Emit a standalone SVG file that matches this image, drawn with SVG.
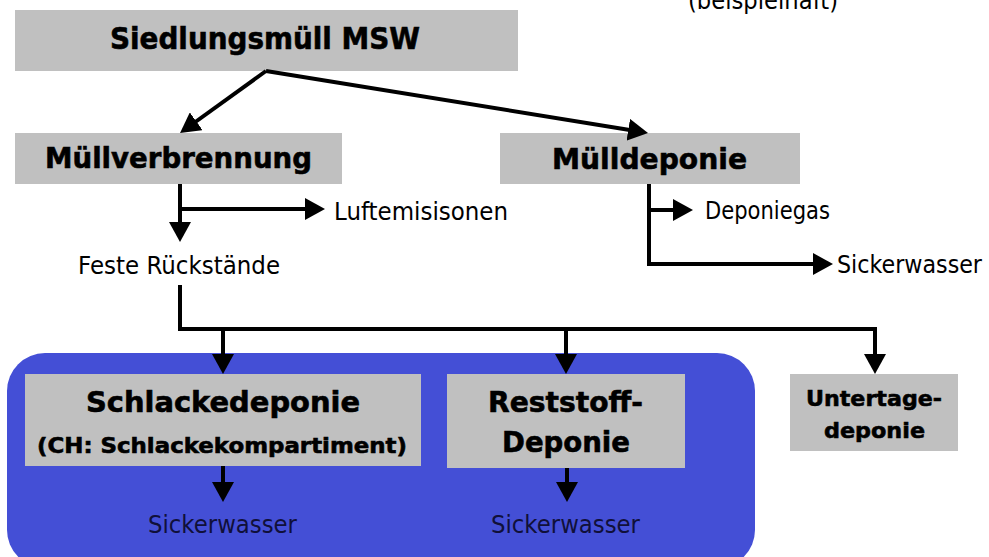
<svg xmlns="http://www.w3.org/2000/svg" width="989" height="557" viewBox="0 0 989 557">
<style>
.box{fill:#c0c0c0;}
.t{font-family:"DejaVu Sans","Liberation Sans",sans-serif;font-weight:bold;fill:#000;stroke:#000;stroke-width:0.6px;}
.n{font-family:"DejaVu Sans","Liberation Sans",sans-serif;font-size:25.5px;fill:#000;}
.c{fill:none;stroke:#000;stroke-width:4;}
</style>
<defs>
<marker id="ah" viewBox="0 0 20 22" markerWidth="20" markerHeight="22" refX="14" refY="11" orient="auto" markerUnits="userSpaceOnUse">
<path d="M0,0 L20,11 L0,22 Z" fill="#000"/>
</marker>
</defs>
<rect id="group-bg" x="7" y="353" width="748" height="215" rx="38" ry="38" fill="#444fd6"/>
<text class="n" x="688" y="9" textLength="150" lengthAdjust="spacingAndGlyphs">(beispielhaft)</text>
<g id="msw">
<rect class="box" x="15" y="10" width="503" height="61"/>
<text class="t" x="110" y="49" font-size="30" textLength="310" lengthAdjust="spacingAndGlyphs">Siedlungsmüll MSW</text>
</g>
<g id="muellverbrennung">
<rect class="box" x="15" y="133" width="327" height="51"/>
<text class="t" x="45" y="168" font-size="29" textLength="267" lengthAdjust="spacingAndGlyphs">Müllverbrennung</text>
</g>
<g id="muelldeponie">
<rect class="box" x="500" y="133" width="300" height="51"/>
<text class="t" x="552" y="169" font-size="29" textLength="195" lengthAdjust="spacingAndGlyphs">Mülldeponie</text>
</g>
<g id="luftemisisonen">
<text class="n" x="334" y="220" textLength="174" lengthAdjust="spacingAndGlyphs">Luftemisisonen</text>
</g>
<g id="deponiegas">
<text class="n" x="705" y="219" textLength="125" lengthAdjust="spacingAndGlyphs">Deponiegas</text>
</g>
<g id="feste-rueckstaende">
<text class="n" x="78" y="274" textLength="202" lengthAdjust="spacingAndGlyphs">Feste Rückstände</text>
</g>
<g id="sickerwasser-deponie">
<text class="n" x="837" y="273" textLength="145" lengthAdjust="spacingAndGlyphs">Sickerwasser</text>
</g>
<g id="schlackedeponie">
<rect class="box" x="25" y="374" width="396" height="92"/>
<text class="t" x="86" y="412" font-size="28" textLength="274" lengthAdjust="spacingAndGlyphs">Schlackedeponie</text>
<text class="t" x="37" y="453" font-size="21" textLength="370" lengthAdjust="spacingAndGlyphs">(CH: Schlackekompartiment)</text>
</g>
<g id="reststoffdeponie">
<rect class="box" x="447" y="374" width="238" height="94"/>
<text class="t" x="488" y="412" font-size="28" textLength="155" lengthAdjust="spacingAndGlyphs">Reststoff-</text>
<text class="t" x="502" y="452" font-size="28" textLength="128" lengthAdjust="spacingAndGlyphs">Deponie</text>
</g>
<g id="untertagedeponie">
<rect class="box" x="790" y="374" width="168" height="77"/>
<text class="t" x="806" y="406" font-size="22" textLength="136" lengthAdjust="spacingAndGlyphs">Untertage-</text>
<text class="t" x="824" y="438" font-size="22" textLength="101" lengthAdjust="spacingAndGlyphs">deponie</text>
</g>
<g id="sickerwasser-schlacke">
<text class="n" x="148" y="533" style="fill:#10103a" textLength="149" lengthAdjust="spacingAndGlyphs">Sickerwasser</text>
</g>
<g id="sickerwasser-reststoff">
<text class="n" x="491" y="533" style="fill:#10103a" textLength="149" lengthAdjust="spacingAndGlyphs">Sickerwasser</text>
</g>
<g id="connectors">
<path class="c" d="M266,71 L184.9,129.5" marker-end="url(#ah)"/>
<path class="c" d="M266,71 L642.1,132" marker-end="url(#ah)"/>
<path class="c" d="M180,184 V236" marker-end="url(#ah)"/>
<path class="c" d="M180,209 H319" marker-end="url(#ah)"/>
<path class="c" d="M180,285 V329 H875 V368" marker-end="url(#ah)"/>
<path class="c" d="M223,329 V368" marker-end="url(#ah)"/>
<path class="c" d="M566,329 V368" marker-end="url(#ah)"/>
<path class="c" d="M223,466 V496" marker-end="url(#ah)"/>
<path class="c" d="M567,468 V496" marker-end="url(#ah)"/>
<path class="c" d="M649,184 V264 H827" marker-end="url(#ah)"/>
<path class="c" d="M649,210 H687" marker-end="url(#ah)"/>
</g>
</svg>
